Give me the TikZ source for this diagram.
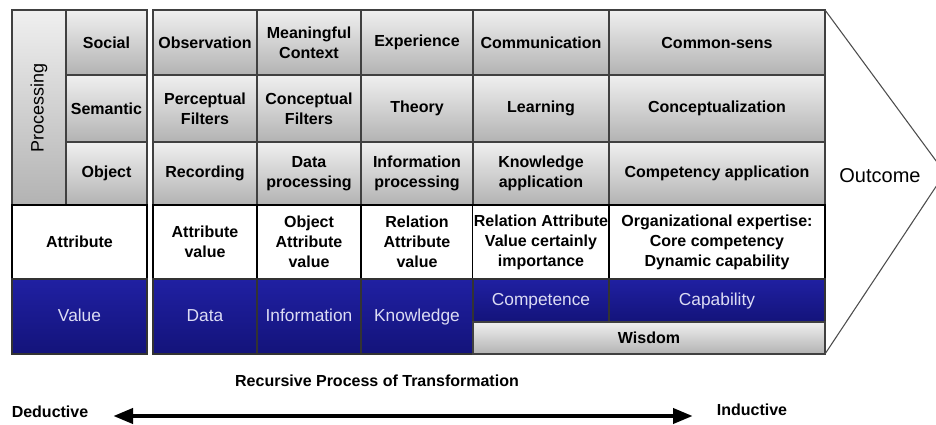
\documentclass[tikz,border=0pt]{standalone}
\usepackage{fontspec}
\setmainfont{Liberation Sans}
\usetikzlibrary{arrows.meta}
\definecolor{cellblue}{HTML}{2020A2}
\definecolor{cellbluedark}{HTML}{13137A}
\definecolor{bluetext}{HTML}{DCDCF4}
\tikzstyle{cell}=[rectangle,inner sep=1pt,outer sep=0pt,align=center,line width=1pt]
\tikzstyle{graycell}=[cell,draw=black!75,top color=black!6,bottom color=black!30,font=\fontsize{12}{15}\selectfont\bfseries]
\tikzstyle{whitecell}=[cell,draw=black,line width=1.4pt,fill=white,font=\fontsize{12}{15}\selectfont\bfseries]
\tikzstyle{bluecell}=[cell,draw=black!80,top color=cellblue,bottom color=cellbluedark,text=bluetext,font=\fontsize{13}{15}\selectfont,text height=9.5pt,text depth=2.5pt]
\tikzset{wd/.style={minimum width=#1*0.75pt},ht/.style={minimum height=#1*0.75pt}}

\begin{document}
\begin{tikzpicture}[x=0.75pt,y=-0.75pt]
		\useasboundingbox (0,0) rectangle (936,425);
		% left block
		\node[graycell,rotate=90,wd=195,ht=54,font=\fontsize{13.5}{15}\selectfont] at (39,107.5) (proc) {Processing};
		\node[graycell,wd=81,ht=65] at (106.5,42.5) (social) {Social};
		\node[graycell,wd=81,ht=67] at (106.5,108.5) (semantic) {Semantic};
		\node[graycell,wd=81,ht=63] at (106.5,173.5) (object) {Object};
		\node[whitecell,wd=135,ht=74] at (79.5,242) (attr) {Attribute};
		\node[bluecell,wd=135,ht=75] at (79.5,316.5) (value) {Value};
		% main block, first row
		\node[graycell,wd=104,ht=65] at (205,42.5) (observ) {Observation};
		\node[graycell,wd=104,ht=65] at (309,42.5) (context) {Meaningful\\Context};
		\node[graycell,wd=112,ht=65] at (417,42.5) (experience) {Experience};
		\node[graycell,wd=136,ht=65] at (541,42.5) (commun) {Communication};
		\node[graycell,wd=216,ht=65] at (717,42.5) (commonsens) {Common-sens};
		% second row
		\node[graycell,wd=104,ht=67] at (205,108.5) (percept) {Perceptual\\Filters};
		\node[graycell,wd=104,ht=67] at (309,108.5) (concept) {Conceptual\\Filters};
		\node[graycell,wd=112,ht=67] at (417,108.5) (theory) {Theory};
		\node[graycell,wd=136,ht=67] at (541,108.5) (learning) {Learning};
		\node[graycell,wd=216,ht=67] at (717,108.5) (conceptual) {Conceptualization};
		% third row
		\node[graycell,wd=104,ht=63] at (205,173.5) (recording) {Recording};
		\node[graycell,wd=104,ht=63] at (309,173.5) (dataproc) {Data\\processing};
		\node[graycell,wd=112,ht=63] at (417,173.5) (infoproc) {Information\\processing};
		\node[graycell,wd=136,ht=63] at (541,173.5) (knowapp) {Knowledge\\application};
		\node[graycell,wd=216,ht=63] at (717,173.5) (compapp) {Competency application};
		% attribute row
		\node[whitecell,wd=104,ht=74] at (205,242) (attrval) {Attribute\\value};
		\node[whitecell,wd=104,ht=74] at (309,242) (objattr) {Object\\Attribute\\value};
		\node[whitecell,wd=112,ht=74] at (417,242) (relattr) {Relation\\Attribute\\value};
		\node[whitecell,wd=136,ht=74] at (541,242) (relattrval) {Relation Attribute\\Value certainly\\importance};
		\node[whitecell,wd=216,ht=74] at (717,242) (orgexp) {Organizational expertise:\\Core competency\\Dynamic capability};
		% value row
		\node[bluecell,wd=104,ht=75] at (205,316.5) (data) {Data};
		\node[bluecell,wd=104,ht=75] at (309,316.5) (info) {Information};
		\node[bluecell,wd=112,ht=75] at (417,316.5) (knowledge) {Knowledge};
		\node[bluecell,wd=136,ht=43] at (541,300.5) (competence) {Competence};
		\node[bluecell,wd=216,ht=43] at (717,300.5) (capability) {Capability};
		\node[graycell,wd=352,ht=32] at (649,338) (wisdom) {Wisdom};
		% outcome
		\coordinate (apex) at (945,173);
		\draw[black!70,line width=0.8pt] (commonsens.north east) -- (apex) -- (wisdom.south east);
		\node[font=\fontsize{15}{17}\selectfont] at (880,176) (outcome) {Outcome};
		% bottom
		\node[font=\fontsize{12}{14}\selectfont\bfseries] at (377,381) (title) {Recursive Process of Transformation};
		\node[font=\fontsize{12}{14}\selectfont\bfseries] at (50,412) (deductive) {Deductive};
		\node[font=\fontsize{12}{14}\selectfont\bfseries] at (752,410) (inductive) {Inductive};
		\coordinate (arrowl) at (113,416);
		\coordinate (arrowr) at (693,416);
		\draw[line width=3.5pt,{Triangle[length=15pt,width=11pt]}-{Triangle[length=15pt,width=11pt]}] (arrowl) -- (arrowr);
		\end{tikzpicture}
\end{document}
